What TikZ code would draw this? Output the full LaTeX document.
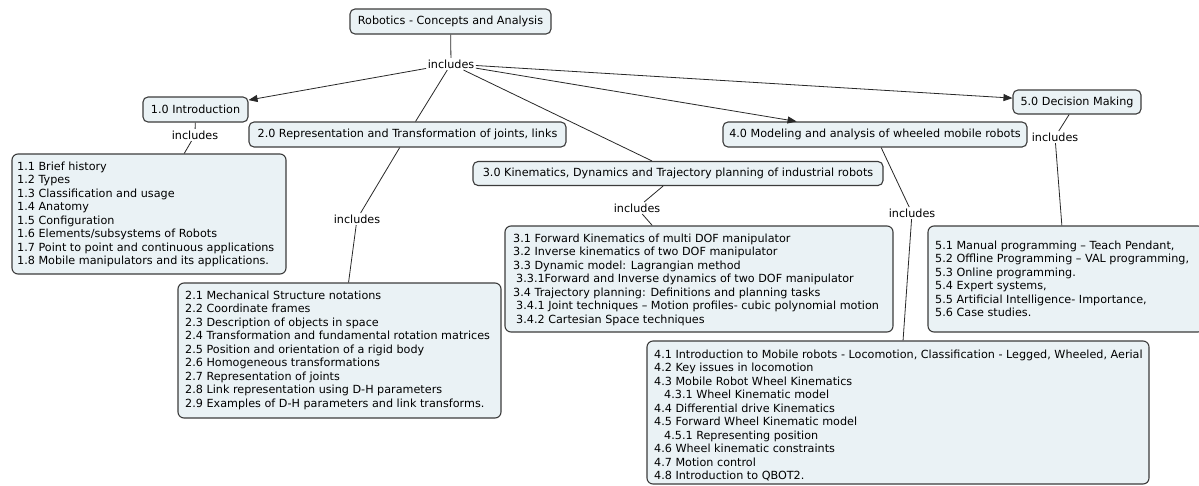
\documentclass[tikz,border=0pt]{standalone}
\usepackage{fontspec}
\setmainfont{DejaVu Sans}
\usetikzlibrary{arrows.meta}
\definecolor{boxfill}{RGB}{234,242,245}
\definecolor{boxline}{RGB}{60,60,60}
\definecolor{linkline}{RGB}{40,40,40}
\tikzset{
  concept/.style={draw=boxline, fill=boxfill, rounded corners=5pt, line width=1.1pt, inner sep=0pt, align=center},
  listbox/.style={draw=boxline, fill=boxfill, rounded corners=6pt, line width=1.1pt, inner sep=0pt},
  listtext/.style={anchor=north west, inner sep=0pt, align=left},
  linkword/.style={inner sep=1.5pt},
  link/.style={draw=linkline, line width=0.8pt},
  arrowlink/.style={link, -{Triangle[length=9pt,width=7pt]}}
}
\begin{document}
\begin{tikzpicture}[x=1pt, y=-1pt, font=\fontsize{11.2}{13.5}\selectfont]
\useasboundingbox (0,0) rectangle (1199,485);
\clip (0,0) rectangle (1199,485);
\fill[white] (0,0) rectangle (1199,485);

% root concept and its linking phrase
\node[concept, minimum width=201pt, minimum height=25pt] (root) at (450.5,21.5) {Robotics - Concepts and Analysis};
\node[linkword] (inc0) at (451,64) {includes};

% main topics
\node[concept, minimum width=105pt, minimum height=25pt] (t1) at (195.5,109.5) {1.0 Introduction};
\node[concept, minimum width=317pt, minimum height=25pt] (t2) at (407.5,134.5) {2.0 Representation and Transformation of joints, links};
\node[concept, minimum width=410pt, minimum height=24pt] (t3) at (678,173.5) {3.0 Kinematics, Dynamics and Trajectory planning of industrial robots};
\node[concept, minimum width=304pt, minimum height=25pt] (t4) at (875,134.5) {4.0 Modeling and analysis of wheeled mobile robots};
\node[concept, minimum width=128pt, minimum height=24pt] (t5) at (1077,102) {5.0 Decision Making};

% linking phrases below the topics
\node[linkword] (inc1) at (195,135) {includes};
\node[linkword] (inc2) at (357,219) {includes};
\node[linkword] (inc3) at (637,208) {includes};
\node[linkword] (inc4) at (912,213) {includes};
\node[linkword] (inc5) at (1055,137) {includes};

% sub-topic lists
\node[listbox, minimum width=274pt, minimum height=120pt] (b1) at (149,214) {};
\node[listtext] (l1) at (17,161.5) {1.1 Brief history\\
1.2 Types\\
1.3 Classification and usage\\
1.4 Anatomy\\
1.5 Configuration\\
1.6 Elements/subsystems of Robots\\
1.7 Point to point and continuous applications\\
1.8 Mobile manipulators and its applications.};

\node[listbox, minimum width=323pt, minimum height=135pt] (b2) at (339.5,350.5) {};
\node[listtext] (l2) at (185,290.5) {2.1 Mechanical Structure notations\\
2.2 Coordinate frames\\
2.3 Description of objects in space\\
2.4 Transformation and fundamental rotation matrices\\
2.5 Position and orientation of a rigid body\\
2.6 Homogeneous transformations\\
2.7 Representation of joints\\
2.8 Link representation using D-H parameters\\
2.9 Examples of D-H parameters and link transforms.};

\node[listbox, minimum width=388pt, minimum height=106pt] (b3) at (699,279) {};
\node[listtext] (l3) at (513,233.5) {3.1 Forward Kinematics of multi DOF manipulator\\
3.2 Inverse kinematics of two DOF manipulator\\
3.3 Dynamic model: Lagrangian method\\
\hspace*{3pt}3.3.1Forward and Inverse dynamics of two DOF manipulator\\
3.4 Trajectory planning: Definitions and planning tasks\\
\hspace*{3pt}3.4.1 Joint techniques – Motion profiles- cubic polynomial motion\\
\hspace*{3pt}3.4.2 Cartesian Space techniques};

\node[listbox, minimum width=502pt, minimum height=143pt] (b4) at (898,412.5) {};
\node[listtext] (l4) at (654,349.5) {4.1 Introduction to Mobile robots - Locomotion, Classification - Legged, Wheeled, Aerial\\
4.2 Key issues in locomotion\\
4.3 Mobile Robot Wheel Kinematics\\
\hspace*{10pt}4.3.1 Wheel Kinematic model\\
4.4 Differential drive Kinematics\\
4.5 Forward Wheel Kinematic model\\
\hspace*{10pt}4.5.1 Representing position\\
4.6 Wheel kinematic constraints\\
4.7 Motion control\\
4.8 Introduction to QBOT2.};

\node[listbox, minimum width=276pt, minimum height=106pt] (b5) at (1066,279) {};
\node[listtext] (l5) at (935,240.5) {5.1 Manual programming – Teach Pendant,\\
5.2 Offline Programming – VAL programming,\\
5.3 Online programming.\\
5.4 Expert systems,\\
5.5 Artificial Intelligence- Importance,\\
5.6 Case studies.};

% connectors
\draw[link] (root) -- (inc0);
\draw[arrowlink] (inc0) -- (t1);
\draw[link] (inc0) -- (t2);
\draw[link] (inc0) -- (t3);
\draw[arrowlink] (inc0) -- (t4);
\draw[arrowlink] (inc0) -- (t5);

\draw[link] (t1) -- (inc1);
\draw[link] (inc1) -- (b1);
\draw[link] (t2) -- (inc2);
\draw[link] (inc2) -- (b2);
\draw[link] (t3) -- (inc3);
\draw[link] (inc3) -- (b3);
\draw[link] (t4) -- (inc4);
\draw[link] (inc4) -- (b4);
\draw[link] (t5) -- (inc5);
\draw[link] (inc5) -- (b5);
\end{tikzpicture}
\end{document}
